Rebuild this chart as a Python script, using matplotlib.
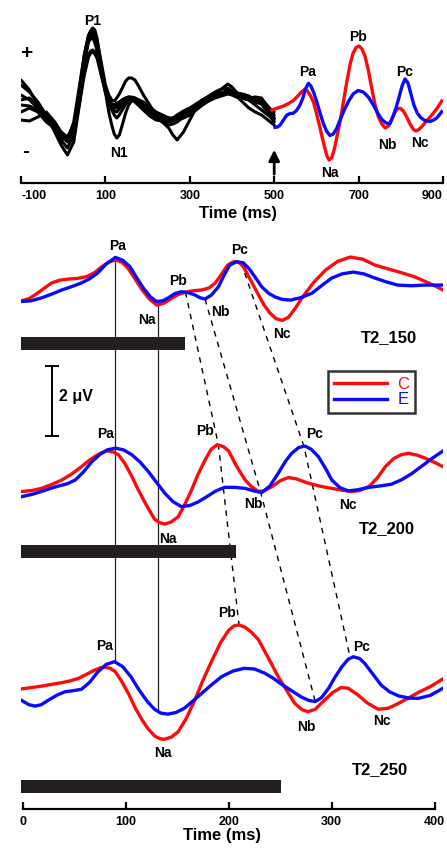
import numpy as np
import matplotlib
matplotlib.use("Agg")
import matplotlib.pyplot as plt

plt.rcParams['font.family'] = ['Liberation Sans', 'DejaVu Sans']
plt.rcParams['font.weight'] = 'bold'

RED = '#ff0a0a'
BLUE = '#0a0aff'

# ---------------- top panel: single trials + grand averages (a.u.) ----------------
t_black = [-100, -80, -60, -40, -20, -5, 10, 25, 40, 50, 60, 65, 70, 75, 80, 90, 100, 108,
           115, 121, 127, 133, 140, 148, 155, 162, 170, 180, 190, 205, 220, 235, 250, 260,
           270, 285, 300, 315, 330, 345, 360, 375, 390, 400, 410, 425, 440, 455, 470, 485, 500]
black_1 = [25, 18, 8, -5, -22, -35, -45, -32, 10, 45, 72, 79, 82, 80, 72, 45, 18, -2,
           -15, -24, -28, -25, -15, -3, 5, 9, 10, 8, 5, 0, -5, -8, -10, -10,
           -8, -4, 0, 5, 10, 12, 14, 17, 20, 18, 15, 12, 10, 10, 10, 4, -5]
black_2 = [30, 20, 5, -8, -15, -25, -32, -18, 25, 55, 75, 79, 80, 77, 70, 48, 25, 15,
           10, 9, 12, 16, 22, 29, 32, 32, 30, 23, 15, 5, -5, -12, -18, -25,
           -30, -22, -10, 2, 10, 13, 16, 21, 26, 23, 18, 14, 12, 13, 12, 3, -8]
black_3 = [15, 10, 2, -8, -16, -22, -27, -15, 15, 38, 55, 59, 60, 58, 55, 38, 18, 8,
           2, -1, -2, 1, 5, 9, 12, 12, 10, 7, 5, -2, -8, -11, -12, -11,
           -8, -4, 0, 5, 10, 13, 15, 17, 18, 16, 14, 12, 10, 5, 0, -5, -10]
black_4 = [10, 12, 5, -5, -18, -28, -30, -12, 28, 55, 74, 77, 77, 72, 65, 40, 20, 10,
           4, 3, 5, 7, 10, 12, 13, 12, 10, 6, 2, -3, -8, -12, -15, -14,
           -12, -7, -2, 3, 8, 11, 13, 16, 18, 18, 17, 16, 14, 10, 6, -3, -12]
black_5 = [5, 4, 0, -10, -20, -30, -38, -25, 10, 35, 53, 57, 58, 56, 52, 35, 18, 8,
           0, -5, -8, -5, 0, 6, 10, 10, 8, 4, 0, -6, -10, -11, -10, -8,
           -5, -1, 2, 6, 10, 14, 18, 21, 22, 19, 14, 8, 2, -2, -5, -10, -15]
black_6 = [-2, 2, -2, -12, -18, -23, -30, -18, 20, 50, 70, 74, 75, 70, 62, 38, 22, 12,
           6, 5, 7, 8, 10, 12, 13, 13, 12, 8, 5, 0, -5, -7, -8, -8,
           -8, -5, -2, 3, 8, 11, 13, 15, 17, 16, 15, 12, 10, 8, 6, 0, -8]
black_7 = [-10, -11, -7, -2, -12, -22, -28, -20, 18, 48, 68, 71, 72, 67, 60, 36, 20, 11,
           5, 2, 2, 5, 10, 11, 12, 12, 12, 10, 8, 3, -2, -5, -8, -9,
           -10, -8, -5, 0, 5, 9, 12, 14, 16, 15, 13, 12, 12, 10, 8, 3, -2]

# (ms, a.u.) grand averages after the T2 onset
top_c = [(494, 0), (508, 2), (522, 4), (534, 6.5), (545, 9.3), (556, 14), (565, 18.3),
         (572, 20.5), (578, 19.5), (585, 15), (593, 8), (600, -3), (608, -16.7), (614, -28),
         (620, -38), (625, -46), (630, -50), (636, -48), (642, -40), (648, -28), (656, -12),
         (664, 8), (672, 28), (680, 46), (687, 57), (694, 62.5), (701, 64), (708, 61),
         (715, 54), (723, 40), (731, 22), (739, 5), (747, -7), (755, -14), (763, -18),
         (771, -16), (779, -9), (786, -2), (793, 1.5), (799, 1.7), (806, -1), (814, -7),
         (822, -14), (830, -19.5), (836, -21), (843, -19.5), (853, -15), (865, -9),
         (877, -3.3), (888, 3), (897, 9)]
top_e = [(502, -17.3), (508, -17), (514, -15), (522, -10), (530, -5), (538, -3.5),
         (545, -3.3), (553, -0.5), (561, 5), (568, 12), (574, 21), (581, 26.7), (587, 24),
         (594, 17), (601, 8), (608, -2), (616, -13), (624, -21), (632, -25.5), (640, -24),
         (648, -18.5), (656, -10), (666, 0), (676, 8.5), (687, 16), (699, 19.5), (711, 18),
         (723, 13), (735, 5), (745, -3), (755, -9.5), (765, -13), (774, -13.7), (782, -6),
         (789, 2.5), (796, 13), (803, 24), (810, 31), (817, 27), (824, 16), (831, 5),
         (839, -3), (847, -7.5), (857, -10.5), (869, -11.5), (878, -10), (885, -8),
         (891, -5), (897, -1.7)]

top_ticks = [-100, 100, 300, 500, 700, 900]

# ---------------- lower panel: T2 conditions, (ms, uV) ----------------
c150 = [(-1.5, -0.31), (6, -0.25), (12, -0.14), (20, 0.03), (28, 0.2), (36, 0.28), (44, 0.31),
        (53, 0.33), (62, 0.38), (70, 0.5), (77, 0.67), (84, 0.8), (90, 0.86), (96, 0.8),
        (102, 0.63), (109, 0.32), (116, 0.0), (123, -0.26), (130, -0.43), (137, -0.38),
        (145, -0.23), (151, -0.13), (158, -0.06), (166, -0.02), (174, 0), (181, 0.06),
        (187, 0.2), (193, 0.45), (199, 0.71), (204, 0.8), (209, 0.81), (214, 0.68),
        (220, 0.35), (228, -0.09), (234, -0.42), (240, -0.66), (246, -0.82), (252, -0.87),
        (258, -0.78), (264, -0.55), (271, -0.23), (282, 0.2), (294, 0.57), (306, 0.82),
        (318, 0.94), (330, 0.88), (342, 0.71), (355, 0.6), (368, 0.49), (380, 0.38),
        (391, 0.24), (400, 0.12), (408, 0)]
e150 = [(-1.5, -0.33), (8, -0.31), (18, -0.23), (28, -0.12), (38, 0), (48, 0.1), (57, 0.2),
        (65, 0.32), (73, 0.49), (81, 0.74), (90, 0.93), (97, 0.85), (104, 0.67), (110, 0.38),
        (117, 0.06), (124, -0.2), (130, -0.33), (136, -0.31), (141, -0.23), (148, -0.1),
        (154, -0.05), (161, -0.08), (167, -0.14), (172, -0.22), (177, -0.26), (183, -0.15),
        (190, 0.09), (196, 0.45), (201, 0.71), (207, 0.8), (214, 0.78), (220, 0.6),
        (226, 0.35), (232, 0.09), (239, -0.1), (245, -0.2), (252, -0.27), (260, -0.29),
        (270, -0.22), (281, -0.09), (290, 0.12), (300, 0.34), (310, 0.46), (321, 0.51),
        (331, 0.46), (342, 0.34), (353, 0.23), (364, 0.14), (377, 0.12), (391, 0.14),
        (408, 0.14)]

c200 = [(-1.5, 0.24), (9, 0.27), (18, 0.33), (28, 0.44), (38, 0.57), (48, 0.75), (57, 0.95),
        (64, 1.12), (70, 1.24), (76, 1.34), (82, 1.4), (88, 1.37), (93, 1.29), (99, 1.05),
        (106, 0.67), (112, 0.3), (119, -0.09), (124, -0.35), (128, -0.55), (133, -0.65),
        (138, -0.69), (144, -0.63), (151, -0.48), (157, -0.15), (164, 0.29), (170, 0.72),
        (177, 1.14), (183, 1.45), (189, 1.58), (195, 1.52), (200, 1.4), (206, 1.05),
        (211, 0.8), (216, 0.57), (222, 0.38), (229, 0.24), (235, 0.27), (242, 0.38),
        (250, 0.55), (258, 0.64), (266, 0.6), (277, 0.48), (289, 0.39), (300, 0.33),
        (310, 0.28), (319, 0.24), (327, 0.27), (336, 0.38), (344, 0.62), (352, 0.95),
        (360, 1.18), (368, 1.3), (375, 1.33), (383, 1.28), (391, 1.19), (400, 1.07),
        (408, 0.95)]
e200 = [(-1.5, 0.09), (9, 0.16), (18, 0.24), (27, 0.33), (35, 0.4), (43, 0.46), (51, 0.57),
        (59, 0.8), (67, 1.09), (75, 1.3), (82, 1.43), (90, 1.48), (98, 1.43), (106, 1.29),
        (114, 1.08), (122, 0.81), (130, 0.5), (138, 0.19), (146, -0.05), (154, -0.19),
        (162, -0.16), (170, -0.06), (178, 0.08), (187, 0.25), (196, 0.36), (206, 0.36),
        (216, 0.33), (224, 0.26), (232, 0.21), (240, 0.4), (248, 0.76), (255, 1.1),
        (261, 1.33), (268, 1.5), (274, 1.54), (280, 1.45), (287, 1.24), (294, 0.9),
        (300, 0.57), (308, 0.35), (316, 0.26), (325, 0.29), (336, 0.36), (347, 0.4),
        (358, 0.45), (368, 0.58), (378, 0.76), (388, 0.98), (398, 1.2), (408, 1.4)]

c250 = [(-1.5, 0.03), (9, 0.07), (18, 0.11), (28, 0.16), (38, 0.21), (46, 0.26), (54, 0.33),
        (62, 0.45), (70, 0.57), (76, 0.64), (80, 0.65), (85, 0.62), (90, 0.52), (96, 0.25),
        (103, -0.12), (109, -0.5), (116, -0.86), (122, -1.12), (128, -1.31), (133, -1.39),
        (137, -1.41), (144, -1.35), (151, -1.19), (159, -0.8), (167, -0.29), (175, 0.28),
        (184, 0.86), (192, 1.35), (200, 1.71), (205, 1.83), (210, 1.86), (216, 1.79),
        (222, 1.65), (229, 1.43), (236, 1.05), (242, 0.72), (248, 0.38), (256, 0.0),
        (264, -0.38), (271, -0.56), (277, -0.62), (284, -0.55), (293, -0.29), (301, -0.07),
        (309, 0.07), (316, 0.05), (325, -0.13), (334, -0.36), (345, -0.55), (355, -0.52),
        (365, -0.38), (375, -0.22), (384, -0.07), (396, 0.1), (408, 0.32)]
e250 = [(-1.5, -0.29), (6, -0.42), (12, -0.46), (18, -0.42), (25, -0.29), (33, -0.15),
        (41, -0.05), (49, -0.02), (57, 0.02), (65, 0.22), (73, 0.52), (81, 0.73), (89, 0.81),
        (97, 0.67), (105, 0.38), (113, 0.0), (121, -0.33), (128, -0.55), (134, -0.66),
        (141, -0.69), (149, -0.64), (157, -0.52), (165, -0.32), (174, -0.09), (183, 0.14),
        (193, 0.38), (204, 0.54), (215, 0.62), (225, 0.6), (235, 0.48), (243, 0.34),
        (251, 0.17), (261, -0.02), (271, -0.21), (278, -0.3), (284, -0.33), (290, -0.22),
        (297, 0.05), (303, 0.36), (310, 0.67), (316, 0.88), (321, 0.95), (327, 0.9),
        (332, 0.76), (340, 0.45), (348, 0.14), (356, -0.05), (365, -0.17), (375, -0.23),
        (384, -0.24), (396, -0.15), (408, 0.05)]

conditions = ['T2_150', 'T2_200', 'T2_250']
bar_end = [158, 207, 251]          # ms, black bars under each pair of traces
pa_lat, na_lat = 90, 131           # solid reference lines
pb_lat = [158, 190, 210]           # dashed, on C traces
nb_lat = [177, 231, 284]           # dashed, on E traces
pc_lat = [212, 273, 318]           # dashed, on E traces
bottom_ticks = [0, 100, 200, 300, 400]

# vertical offsets of the three trace pairs in the lower axes
offsets = [14.83, 8.83, 3.4]

fig = plt.figure(figsize=(4.47, 8.5), dpi=100)
W, H = 447.0, 850.0


def px_axes(x0, y_top, x1, y_bot):
    return fig.add_axes([x0 / W, 1 - y_bot / H, (x1 - x0) / W, (y_bot - y_top) / H])


def strip(ax):
    for s in ['top', 'right', 'left']:
        ax.spines[s].set_visible(False)
    ax.spines['bottom'].set_linewidth(1.6)
    ax.set_yticks([])
    ax.tick_params(axis='x', direction='in', length=5, width=1.6, labelsize=9, pad=5)
    ax.patch.set_alpha(0)


def xy(pairs):
    a = np.array(pairs, dtype=float)
    return a[:, 0], a[:, 1]


# ---- top panel ----
ax1 = px_axes(21, 5, 443, 183.3)
for ys in [black_1, black_2, black_3, black_4, black_5, black_6, black_7]:
    ax1.plot(t_black, ys, color='black', lw=2.2, solid_joinstyle='round', solid_capstyle='round')
ax1.plot(*xy(top_c), color=RED, lw=2.4, solid_joinstyle='round')
ax1.plot(*xy(top_e), color=BLUE, lw=2.4, solid_joinstyle='round')
ax1.set_xlim(-100, 900)
ax1.set_ylim(-73.3, 105)
strip(ax1)
ax1.set_xticks(top_ticks)
ax1.set_xticklabels([str(v) for v in top_ticks], fontweight='bold')
tl = ax1.get_xticklabels()
tl[0].set_horizontalalignment('left')
tl[-1].set_horizontalalignment('right')
ax1.set_xlabel('Time (ms)', fontsize=12, fontweight='bold')
ax1.xaxis.set_label_coords(0.515, -0.125)
ax1.annotate('', xy=(500, -37), xytext=(500, -67),
             arrowprops=dict(arrowstyle='-|>', color='black', lw=2, mutation_scale=16))
for txt, x, y in [('P1', 69, 89), ('N1', 132, -43), ('Pa', 580, 37.5), ('Na', 632, -63),
                  ('Pb', 699, 73.3), ('Nb', 768, -35), ('Pc', 810, 38.3), ('Nc', 845, -33.3)]:
    ax1.text(x, y, txt, fontsize=10, fontweight='bold', ha='center', va='center')
ax1.text(-86.5, 56.7, '+', fontsize=15, fontweight='bold', ha='center', va='center')
ax1.text(-88.6, -41.7, '-', fontsize=15, fontweight='bold', ha='center', va='center')

# ---- lower panel ----
ax2 = px_axes(21, 225, 443, 809)
traces = [(xy(c150), xy(e150)), (xy(c200), xy(e200)), (xy(c250), xy(e250))]
for i, ((tc, c), (te, e)) in enumerate(traces):
    off = offsets[i]
    lc, = ax2.plot(tc, c + off, color=RED, lw=2.4, solid_joinstyle='round', zorder=3)
    le, = ax2.plot(te, e + off, color=BLUE, lw=2.4, solid_joinstyle='round', zorder=4)
    if i == 0:
        handles = [lc, le]


def on_trace(i, lat, which):
    (tc, c), (te, e) = traces[i]
    if which == 'c':
        return np.interp(lat, tc, c) + offsets[i]
    return np.interp(lat, te, e) + offsets[i]


# stimulus bars
bar_y = [13.3, 7.35, 0.64]
ax2.barh(bar_y, [b + 2 for b in bar_end], left=-2, height=0.37, color='#231f20', zorder=2)

# solid latency markers
ax2.plot([pa_lat, pa_lat], [on_trace(0, pa_lat, 'e'), on_trace(2, pa_lat, 'e')],
         color='#222222', lw=0.9, zorder=1)
ax2.plot([na_lat, na_lat], [on_trace(0, na_lat, 'c'), on_trace(2, na_lat, 'e')],
         color='#222222', lw=0.9, zorder=1)

# dashed peak trajectories
for lats, which in [(pb_lat, 'c'), (nb_lat, 'e'), (pc_lat, 'e')]:
    ys = [on_trace(i, lats[i], which) for i in range(3)]
    ax2.plot(lats, ys, color='black', lw=1.0, ls=(0, (4, 4)), zorder=1)

# scale bar
sb_x, sb_y0 = 28.7, 10.66
ax2.plot([sb_x, sb_x], [sb_y0, sb_y0 + 2], color='black', lw=1.4)
ax2.plot([sb_x - 5.8, sb_x + 5.8], [sb_y0 + 2, sb_y0 + 2], color='black', lw=1.4)
ax2.plot([sb_x - 5.8, sb_x + 5.8], [sb_y0, sb_y0], color='black', lw=1.4)
ax2.text(51.8, 11.8, '2 μV', fontsize=11.5, fontweight='bold', ha='center', va='center')

peak_labels = [
    ('Pa', 92.5, 16.09), ('Na', 120.4, 13.96), ('Pb', 150.3, 15.09), ('Nb', 191.6, 14.21),
    ('Pc', 210.5, 15.96), ('Nc', 251.5, 13.58),
    ('Pa', 80.2, 10.71), ('Pb', 177, 10.8), ('Pc', 283.1, 10.72), ('Na', 141.4, 7.72),
    ('Nb', 223.9, 8.72), ('Nc', 315.5, 8.69),
    ('Pa', 79.6, 4.66), ('Pb', 198.1, 5.61), ('Pc', 328.7, 4.64), ('Na', 136.5, 1.61),
    ('Nb', 275.3, 2.34), ('Nc', 348.2, 2.52),
]
for txt, x, y in peak_labels:
    ax2.text(x, y, txt, fontsize=10, fontweight='bold', ha='center', va='center', zorder=5)
for name, x, y in zip(conditions, [355.6, 353.7, 346.9], [13.46, 8.0, 1.14]):
    ax2.text(x, y, name, fontsize=12, fontweight='bold', ha='center', va='center')

ax2.set_xlim(-1.65, 408)
ax2.set_ylim(0, 16.686)
strip(ax2)
ax2.spines['bottom'].set_bounds(0, 400)
ax2.set_xticks(bottom_ticks)
ax2.set_xticklabels([str(v) for v in bottom_ticks], fontweight='bold')
ax2.set_xlabel('Time (ms)', fontsize=12, fontweight='bold')
ax2.xaxis.set_label_coords(0.476, -0.033)

leg = ax2.legend(handles, ['C', 'E'], loc='upper left',
                 bbox_to_anchor=(328.3 / W, 1 - 370.7 / H), bbox_transform=fig.transFigure,
                 frameon=True, fancybox=False, borderaxespad=0, borderpad=0.35,
                 handlelength=3.2, handletextpad=0.6, labelspacing=0.05,
                 prop={'size': 12, 'weight': 'normal'}, labelcolor='linecolor')
leg.get_frame().set_edgecolor('black')
leg.get_frame().set_linewidth(1.8)

fig.savefig('out.png', dpi=100)
